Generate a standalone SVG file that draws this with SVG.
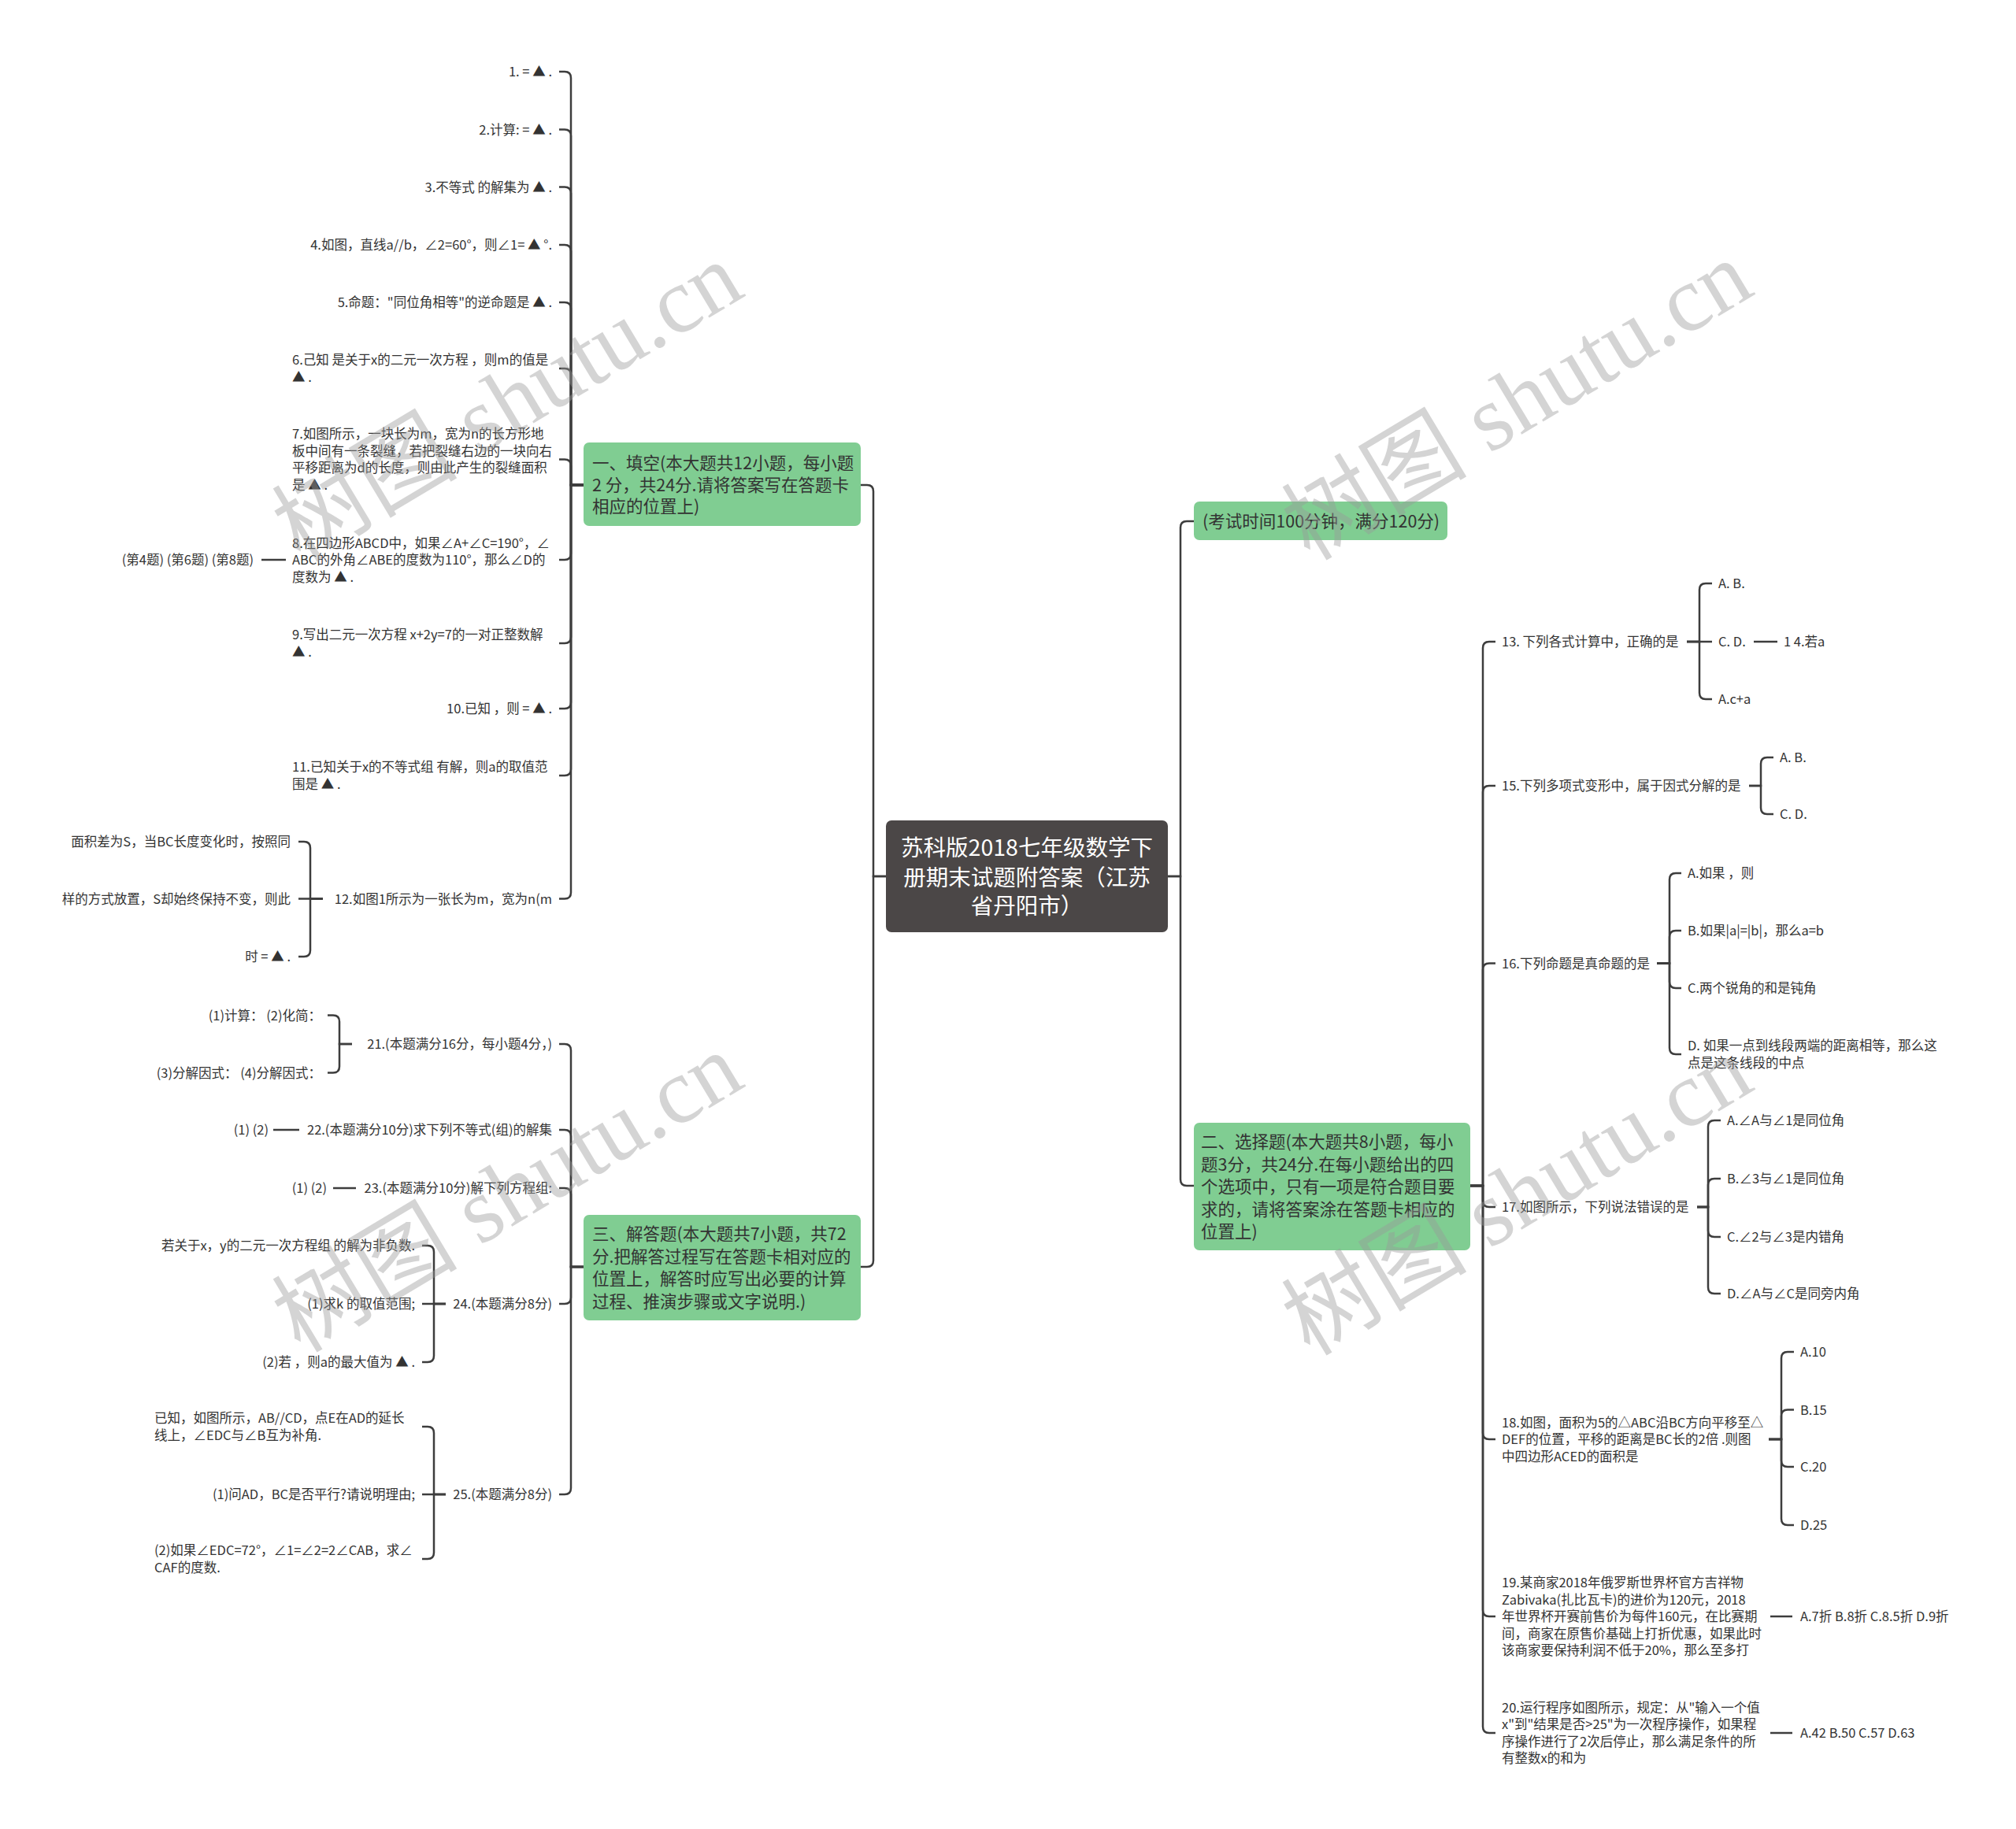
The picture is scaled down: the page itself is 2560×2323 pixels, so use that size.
<svg xmlns="http://www.w3.org/2000/svg" width="2560" height="2323" viewBox="0 0 2560 2323">
<style>
text{font-family:"Noto Sans CJK SC","Liberation Sans",sans-serif;font-size:16.5px;fill:#333}
.e{text-anchor:end}
.b{font-size:21.5px}
.r{font-size:28.5px;fill:#fff;text-anchor:middle}
.c path{fill:none;stroke:#3d3d3d;stroke-width:2.5}
.g{fill:#80cd92}
.wm{font-family:"Liberation Serif","Noto Sans CJK SC",serif;font-size:118px;fill:#9a9a9a;opacity:0.42;text-anchor:middle}
</style>
<rect width="2560" height="2323" fill="#fff"/>
<g id="connectors" class="c">
<path d="M1125 1113H1109V624Q1109 616 1101 616H1093"/>
<path d="M1125 1113H1109V1601Q1109 1609 1101 1609H1093"/>
<path d="M1483 1113H1499V670Q1499 662 1507 662H1516"/>
<path d="M1483 1113H1499V1498Q1499 1506 1507 1506H1516"/>
<path d="M741 616H725V99Q725 91 717 91H710"/>
<path d="M741 616H725V172.5Q725 164.5 717 164.5H710"/>
<path d="M741 616H725V245.5Q725 237.5 717 237.5H710"/>
<path d="M741 616H725V319Q725 311 717 311H710"/>
<path d="M741 616H725V392Q725 384 717 384H710"/>
<path d="M741 616H725V476Q725 468 717 468H710"/>
<path d="M741 616H725V591.5Q725 583.5 717 583.5H710"/>
<path d="M741 616H725V703Q725 711 717 711H710"/>
<path d="M741 616H725V809Q725 817 717 817H710"/>
<path d="M741 616H725V892Q725 900 717 900H710"/>
<path d="M741 616H725V977Q725 985 717 985H710"/>
<path d="M741 616H725V1133.5Q725 1141.5 717 1141.5H710"/>
<path d="M363 711H332"/>
<path d="M410 1141.5H394V1077Q394 1069 386 1069H379"/>
<path d="M410 1141.5H379"/>
<path d="M410 1141.5H394V1207Q394 1215 386 1215H379"/>
<path d="M741 1609H725V1334Q725 1326 717 1326H710"/>
<path d="M741 1609H725V1443Q725 1435 717 1435H710"/>
<path d="M741 1609H725V1517Q725 1509 717 1509H710"/>
<path d="M741 1609H725V1648Q725 1656 717 1656H710"/>
<path d="M741 1609H725V1890Q725 1898 717 1898H710"/>
<path d="M447 1326H431V1297.5Q431 1289.5 423 1289.5H416"/>
<path d="M447 1326H431V1354.5Q431 1362.5 423 1362.5H416"/>
<path d="M380 1435H347"/>
<path d="M452 1509H423"/>
<path d="M566 1656H551V1590Q551 1582 543 1582H536"/>
<path d="M566 1656H536"/>
<path d="M566 1656H551V1722Q551 1730 543 1730H536"/>
<path d="M566 1898H551V1820Q551 1812 543 1812H536"/>
<path d="M566 1898H536"/>
<path d="M566 1898H551V1972Q551 1980 543 1980H536"/>
<path d="M1867 1506H1883V823Q1883 815 1891 815H1899"/>
<path d="M1867 1506H1883V1006Q1883 998 1891 998H1899"/>
<path d="M1867 1506H1883V1231.5Q1883 1223.5 1891 1223.5H1899"/>
<path d="M1867 1506H1883V1525Q1883 1533 1891 1533H1899"/>
<path d="M1867 1506H1883V1820Q1883 1828 1891 1828H1899"/>
<path d="M1867 1506H1883V2045Q1883 2053 1891 2053H1899"/>
<path d="M1867 1506H1883V2193Q1883 2201 1891 2201H1899"/>
<path d="M2142 815H2158V749Q2158 741 2166 741H2174"/>
<path d="M2142 815H2174"/>
<path d="M2142 815H2158V880Q2158 888 2166 888H2174"/>
<path d="M2227 815H2257"/>
<path d="M2221 998H2236V970Q2236 962 2244 962H2252"/>
<path d="M2221 998H2236V1026Q2236 1034 2244 1034H2252"/>
<path d="M2104 1223.5H2120V1117Q2120 1109 2128 1109H2135"/>
<path d="M2104 1223.5H2120V1190Q2120 1182 2128 1182H2135"/>
<path d="M2104 1223.5H2120V1247Q2120 1255 2128 1255H2135"/>
<path d="M2104 1223.5H2120V1331Q2120 1339 2128 1339H2135"/>
<path d="M2155 1533H2169V1431Q2169 1423 2177 1423H2185"/>
<path d="M2155 1533H2169V1505Q2169 1497 2177 1497H2185"/>
<path d="M2155 1533H2169V1563Q2169 1571 2177 1571H2185"/>
<path d="M2155 1533H2169V1635Q2169 1643 2177 1643H2185"/>
<path d="M2246 1828H2262V1725Q2262 1717 2270 1717H2278"/>
<path d="M2246 1828H2262V1798.5Q2262 1790.5 2270 1790.5H2278"/>
<path d="M2246 1828H2262V1855Q2262 1863 2270 1863H2278"/>
<path d="M2246 1828H2262V1929Q2262 1937 2270 1937H2278"/>
<path d="M2248 2053H2276"/>
<path d="M2248 2201H2276"/>
</g>
<g id="root">
<rect x="1125" y="1042" width="358" height="142" rx="7" fill="#4b4747"/>
<text class="r" x="1304" y="1086.5">苏科版2018七年级数学下</text>
<text class="r" x="1304" y="1125">册期末试题附答案（江苏</text>
<text class="r" x="1304" y="1161">省丹阳市）</text>
</g>
<g id="b1">
<rect class="g" x="741" y="562" width="352" height="106" rx="7"/>
<text class="b" x="752" y="595.5">一、填空(本大题共12小题，每小题</text>
<text class="b" x="752" y="623.5">2 分，共24分.请将答案写在答题卡</text>
<text class="b" x="752" y="650.5">相应的位置上)</text>
</g>
<g id="b3">
<rect class="g" x="741" y="1543" width="352" height="134" rx="7"/>
<text class="b" x="752" y="1574.5">三、解答题(本大题共7小题，共72</text>
<text class="b" x="752" y="1603.5">分.把解答过程写在答题卡相对应的</text>
<text class="b" x="752" y="1631.5">位置上，解答时应写出必要的计算</text>
<text class="b" x="752" y="1660.5">过程、推演步骤或文字说明.)</text>
</g>
<g id="b2">
<rect class="g" x="1516" y="637" width="322" height="49" rx="7"/>
<text class="b" x="1527" y="669.5">(考试时间100分钟，满分120分)</text>
</g>
<g id="b4">
<rect class="g" x="1516" y="1426" width="351" height="162" rx="7"/>
<text class="b" x="1525" y="1457.5">二、选择题(本大题共8小题，每小</text>
<text class="b" x="1525" y="1486.5">题3分，共24分.在每小题给出的四</text>
<text class="b" x="1525" y="1515">个选项中，只有一项是符合题目要</text>
<text class="b" x="1525" y="1543.5">求的，请将答案涂在答题卡相应的</text>
<text class="b" x="1525" y="1571.5">位置上)</text>
</g>
<g id="q1"><text class="e" x="701" y="97">1. = ▲ .</text></g>
<g id="q2"><text class="e" x="701" y="170.5">2.计算: = ▲ .</text></g>
<g id="q3"><text class="e" x="701" y="243.5">3.不等式 的解集为 ▲ .</text></g>
<g id="q4"><text class="e" x="701" y="317">4.如图，直线a//b，∠2=60°，则∠1= ▲ °.</text></g>
<g id="q5"><text class="e" x="701" y="390">5.命题："同位角相等"的逆命题是 ▲ .</text></g>
<g id="q6"><text x="371" y="463">6.己知 是关于x的二元一次方程 ，则m的值是</text><text x="371" y="485"> ▲ .</text></g>
<g id="q7"><text x="371" y="557">7.如图所示，一块长为m，宽为n的长方形地</text><text x="371" y="579">板中间有一条裂缝，若把裂缝右边的一块向右</text><text x="371" y="600">平移距离为d的长度，则由此产生的裂缝面积</text><text x="371" y="622">是 ▲ .</text></g>
<g id="q8"><text x="371" y="695.5">8.在四边形ABCD中，如果∠A+∠C=190°，∠</text><text x="371" y="717">ABC的外角∠ABE的度数为110°，那么∠D的</text><text x="371" y="738.5">度数为 ▲ .</text></g>
<g id="q8a"><text class="e" x="322" y="717">(第4题) (第6题) (第8题)</text></g>
<g id="q9"><text x="371" y="812">9.写出二元一次方程 x+2y=7的一对正整数解</text><text x="371" y="834"> ▲ .</text></g>
<g id="q10"><text class="e" x="701" y="906">10.已知 ，则 = ▲ .</text></g>
<g id="q11"><text x="371" y="980">11.已知关于x的不等式组 有解，则a的取值范</text><text x="371" y="1002">围是 ▲ .</text></g>
<g id="q12"><text class="e" x="701" y="1147.5">12.如图1所示为一张长为m，宽为n(m</text></g>
<g id="q12a"><text class="e" x="369" y="1075">面积差为S，当BC长度变化时，按照同</text></g>
<g id="q12b"><text class="e" x="369" y="1147.5">样的方式放置，S却始终保持不变，则此</text></g>
<g id="q12c"><text class="e" x="369" y="1221">时 = ▲ .</text></g>
<g id="q21"><text class="e" x="701" y="1332">21.(本题满分16分，每小题4分，)</text></g>
<g id="q21a"><text class="e" x="408" y="1295.5">(1)计算： (2)化简：</text></g>
<g id="q21b"><text class="e" x="408" y="1368.5">(3)分解因式： (4)分解因式：</text></g>
<g id="q22"><text class="e" x="701" y="1441">22.(本题满分10分)求下列不等式(组)的解集</text></g>
<g id="q22a"><text class="e" x="341" y="1441">(1) (2)</text></g>
<g id="q23"><text class="e" x="701" y="1515">23.(本题满分10分)解下列方程组:</text></g>
<g id="q23a"><text class="e" x="415" y="1515">(1) (2)</text></g>
<g id="q24"><text class="e" x="701" y="1662">24.(本题满分8分)</text></g>
<g id="q24a"><text class="e" x="527" y="1588">若关于x，y的二元一次方程组 的解为非负数.</text></g>
<g id="q24b"><text class="e" x="527" y="1662">(1)求k 的取值范围;</text></g>
<g id="q24c"><text class="e" x="527" y="1736">(2)若 ，则a的最大值为 ▲ .</text></g>
<g id="q25"><text class="e" x="701" y="1904">25.(本题满分8分)</text></g>
<g id="q25a"><text x="196" y="1807">已知，如图所示，AB//CD，点E在AD的延长</text><text x="196" y="1829">线上，∠EDC与∠B互为补角.</text></g>
<g id="q25b"><text class="e" x="527" y="1904">(1)问AD，BC是否平行?请说明理由;</text></g>
<g id="q25c"><text x="196" y="1975">(2)如果∠EDC=72°，∠1=∠2=2∠CAB，求∠</text><text x="196" y="1997">CAF的度数.</text></g>
<g id="q13"><text x="1907" y="821">13. 下列各式计算中，正确的是</text></g>
<g id="q13a"><text x="2182" y="747">A. B.</text></g>
<g id="q13b"><text x="2182" y="821">C. D.</text></g>
<g id="q13b1"><text x="2265" y="821">1 4.若a</text></g>
<g id="q13c"><text x="2182" y="894">A.c+a</text></g>
<g id="q15"><text x="1907" y="1004">15.下列多项式变形中，属于因式分解的是</text></g>
<g id="q15a"><text x="2260" y="968">A. B.</text></g>
<g id="q15b"><text x="2260" y="1040">C. D.</text></g>
<g id="q16"><text x="1907" y="1229.5">16.下列命题是真命题的是</text></g>
<g id="q16a"><text x="2143" y="1115">A.如果 ，则</text></g>
<g id="q16b"><text x="2143" y="1188">B.如果|a|=|b|，那么a=b</text></g>
<g id="q16c"><text x="2143" y="1261">C.两个锐角的和是钝角</text></g>
<g id="q16d"><text x="2143" y="1334">D. 如果一点到线段两端的距离相等，那么这</text><text x="2143" y="1356">点是这条线段的中点</text></g>
<g id="q17"><text x="1907" y="1539">17.如图所示，下列说法错误的是</text></g>
<g id="q17a"><text x="2193" y="1429">A.∠A与∠1是同位角</text></g>
<g id="q17b"><text x="2193" y="1503">B.∠3与∠1是同位角</text></g>
<g id="q17c"><text x="2193" y="1577">C.∠2与∠3是内错角</text></g>
<g id="q17d"><text x="2193" y="1649">D.∠A与∠C是同旁内角</text></g>
<g id="q18"><text x="1907" y="1812.5">18.如图，面积为5的△ABC沿BC方向平移至△</text><text x="1907" y="1834">DEF的位置，平移的距离是BC长的2倍 .则图</text><text x="1907" y="1855.5">中四边形ACED的面积是</text></g>
<g id="q18a"><text x="2286" y="1723">A.10</text></g>
<g id="q18b"><text x="2286" y="1796.5">B.15</text></g>
<g id="q18c"><text x="2286" y="1869">C.20</text></g>
<g id="q18d"><text x="2286" y="1943">D.25</text></g>
<g id="q19"><text x="1907" y="2016">19.某商家2018年俄罗斯世界杯官方吉祥物</text><text x="1907" y="2037.5">Zabivaka(扎比瓦卡)的进价为120元，2018</text><text x="1907" y="2059">年世界杯开赛前售价为每件160元，在比赛期</text><text x="1907" y="2080.5">间，商家在原售价基础上打折优惠，如果此时</text><text x="1907" y="2102">该商家要保持利润不低于20%，那么至多打</text></g>
<g id="q19a"><text x="2286" y="2059">A.7折 B.8折 C.8.5折 D.9折</text></g>
<g id="q20"><text x="1907" y="2174.5">20.运行程序如图所示，规定：从"输入一个值</text><text x="1907" y="2196">x"到"结果是否&gt;25"为一次程序操作，如果程</text><text x="1907" y="2217.5">序操作进行了2次后停止，那么满足条件的所</text><text x="1907" y="2239">有整数x的和为</text></g>
<g id="q20a"><text x="2286" y="2207">A.42 B.50 C.57 D.63</text></g>
<g id="watermarks">
<text class="wm" transform="translate(665 545) rotate(-31)">树图 shutu.cn</text>
<text class="wm" transform="translate(1947 543) rotate(-31)">树图 shutu.cn</text>
<text class="wm" transform="translate(665 1549) rotate(-31)">树图 shutu.cn</text>
<text class="wm" transform="translate(1947 1553) rotate(-31)">树图 shutu.cn</text>
</g>
</svg>
